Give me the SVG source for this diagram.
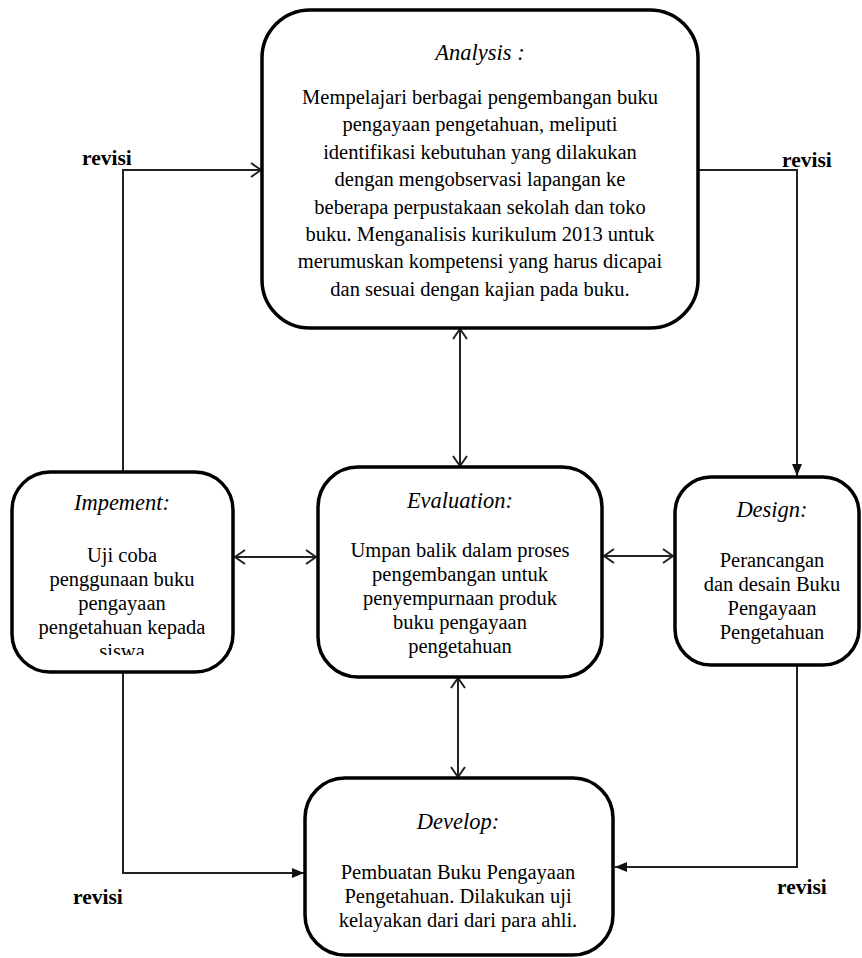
<svg xmlns="http://www.w3.org/2000/svg" width="862" height="958" viewBox="0 0 862 958">
<style>
.box{fill:#fff;stroke:#000;stroke-width:3.5}
.con{fill:none;stroke:#222;stroke-width:2}
.t{font-family:"Liberation Serif","Times New Roman",serif;font-size:20.5px;fill:#000;text-anchor:middle}
.h{font-family:"Liberation Serif","Times New Roman",serif;font-size:22.5px;font-style:italic;fill:#000;text-anchor:middle}
.rev{font-family:"Liberation Serif","Times New Roman",serif;font-size:21.5px;font-weight:bold;fill:#000}
</style>
<defs>
<marker id="open" viewBox="0 0 12 16" refX="11" refY="8" markerWidth="12" markerHeight="16" orient="auto-start-reverse" markerUnits="userSpaceOnUse"><path d="M1,1 L11,8 L1,15" fill="none" stroke="#222" stroke-width="2"/></marker>
<marker id="fill" viewBox="0 0 12 10" refX="12" refY="5" markerWidth="12" markerHeight="10" orient="auto" markerUnits="userSpaceOnUse"><path d="M0,0 L12,5 L0,10 z" fill="#111"/></marker>
<clipPath id="clipImp"><rect x="0" y="460" width="250" height="195"/></clipPath>
</defs>

<g id="connectors">
<path class="con" d="M123,472 V170 H261" marker-end="url(#open)"/>
<path class="con" d="M698,170 H797 V476" marker-end="url(#fill)"/>
<path class="con" d="M797,665 V867 H615" marker-end="url(#fill)"/>
<path class="con" d="M123,672 V873 H304" marker-end="url(#fill)"/>
<path class="con" d="M460,329 V466" marker-start="url(#open)" marker-end="url(#open)"/>
<path class="con" d="M458,678 V777" marker-start="url(#open)" marker-end="url(#open)"/>
<path class="con" d="M235,557 H316" marker-start="url(#open)" marker-end="url(#open)"/>
<path class="con" d="M604,556 H673" marker-start="url(#open)" marker-end="url(#open)"/>
</g>

<g id="analysis">
<rect class="box" x="262" y="10" width="436" height="318" rx="48"/>
<text class="h" x="480" y="60">Analysis :</text>
<text class="t" x="480" y="104">Mempelajari berbagai pengembangan buku</text>
<text class="t" x="480" y="131.4">pengayaan pengetahuan, meliputi</text>
<text class="t" x="480" y="158.8">identifikasi kebutuhan yang dilakukan</text>
<text class="t" x="480" y="186.2">dengan mengobservasi lapangan ke</text>
<text class="t" x="480" y="213.6">beberapa perpustakaan sekolah dan toko</text>
<text class="t" x="480" y="241">buku. Menganalisis kurikulum 2013 untuk</text>
<text class="t" x="480" y="268.4">merumuskan kompetensi yang harus dicapai</text>
<text class="t" x="480" y="295.8">dan sesuai dengan kajian pada buku.</text>
</g>

<g id="implement">
<rect class="box" x="12" y="472" width="221" height="200" rx="38"/>
<text class="h" x="122" y="510">Impement:</text>
<g clip-path="url(#clipImp)">
<text class="t" x="122" y="562">Uji coba</text>
<text class="t" x="122" y="586">penggunaan buku</text>
<text class="t" x="122" y="610">pengayaan</text>
<text class="t" x="122" y="634">pengetahuan kepada</text>
<text class="t" x="122" y="658">siswa</text>
</g>
</g>

<g id="evaluation">
<rect class="box" x="318" y="467" width="284" height="210" rx="40"/>
<text class="h" x="460" y="508">Evaluation:</text>
<text class="t" x="460" y="557">Umpan balik dalam proses</text>
<text class="t" x="460" y="581">pengembangan untuk</text>
<text class="t" x="460" y="605">penyempurnaan produk</text>
<text class="t" x="460" y="629">buku pengayaan</text>
<text class="t" x="460" y="653">pengetahuan</text>
</g>

<g id="design">
<rect class="box" x="675" y="477" width="184" height="188" rx="36"/>
<text class="h" x="772" y="517">Design:</text>
<text class="t" x="772" y="567">Perancangan</text>
<text class="t" x="772" y="591">dan desain Buku</text>
<text class="t" x="772" y="615">Pengayaan</text>
<text class="t" x="772" y="639">Pengetahuan</text>
</g>

<g id="develop">
<rect class="box" x="305" y="778" width="308" height="177" rx="40"/>
<text class="h" x="458" y="829">Develop:</text>
<text class="t" x="458" y="879">Pembuatan Buku Pengayaan</text>
<text class="t" x="458" y="903">Pengetahuan. Dilakukan uji</text>
<text class="t" x="458" y="927">kelayakan dari dari para ahli.</text>
</g>

<g id="labels">
<text class="rev" x="82" y="165">revisi</text>
<text class="rev" x="782" y="167">revisi</text>
<text class="rev" x="73" y="904">revisi</text>
<text class="rev" x="777" y="894">revisi</text>
</g>
</svg>
